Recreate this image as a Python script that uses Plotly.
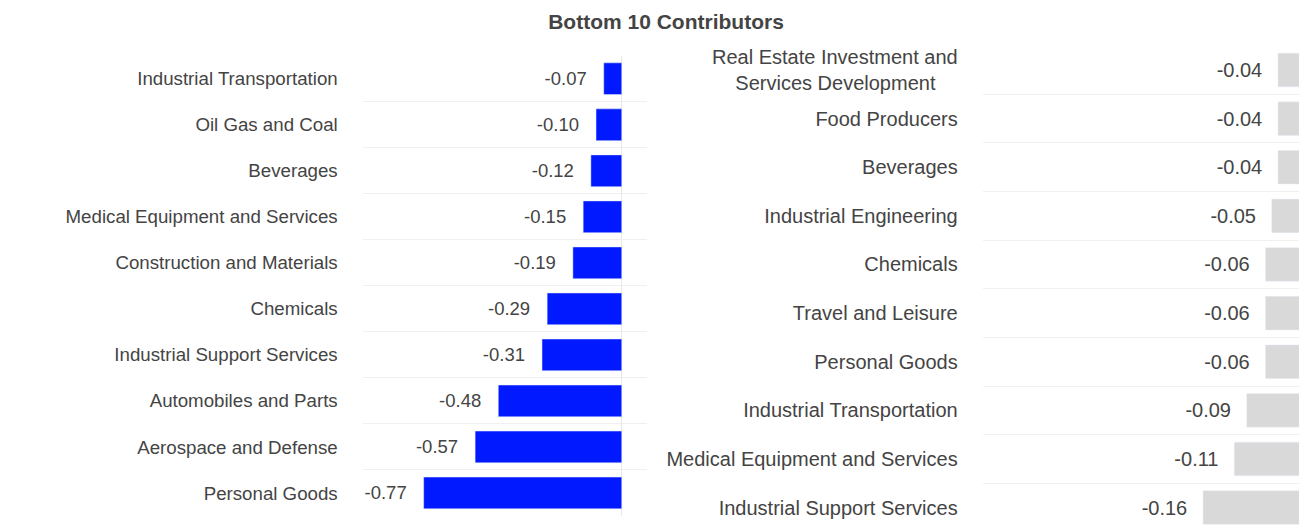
import plotly.graph_objects as go
from plotly.subplots import make_subplots

# Left panel: sector contributions
left_sectors = [
    "Industrial Transportation",
    "Oil Gas and Coal",
    "Beverages",
    "Medical Equipment and Services",
    "Construction and Materials",
    "Chemicals",
    "Industrial Support Services",
    "Automobiles and Parts",
    "Aerospace and Defense",
    "Personal Goods",
]
left_values = [-0.07, -0.10, -0.12, -0.15, -0.19, -0.29, -0.31, -0.48, -0.57, -0.77]

# Right panel: sector contributions (second line of the long label is padded so it sits centred)
right_sectors = [
    "Real Estate Investment and<br>Services Development\u00a0\u00a0\u00a0\u00a0",
    "Food Producers",
    "Beverages",
    "Industrial Engineering",
    "Chemicals",
    "Travel and Leisure",
    "Personal Goods",
    "Industrial Transportation",
    "Medical Equipment and Services",
    "Industrial Support Services",
]
right_values = [-0.04, -0.04, -0.04, -0.05, -0.06, -0.06, -0.06, -0.09, -0.11, -0.16]

FONT = "Liberation Sans, Arial, sans-serif"
TEXT = "#444444"
GRID = "#f0f0f0"
W, H = 1299, 525

fig = make_subplots(rows=1, cols=2)

fig.add_trace(
    go.Bar(
        x=left_values, y=left_sectors, orientation="h",
        marker=dict(color="#0019FF", line=dict(color="#E5ECF6", width=0.5)),
        texttemplate="%{x:.2f}  \u2009", textposition="outside",
        textfont=dict(family=FONT, size=18.5, color=TEXT),
        cliponaxis=False, showlegend=False,
    ),
    row=1, col=1,
)
fig.add_trace(
    go.Bar(
        x=right_values, y=right_sectors, orientation="h",
        marker=dict(color="#D9D9D9", line=dict(color="#E5ECF6", width=0.5)),
        texttemplate="%{x:.2f}  \u200a", textposition="outside",
        textfont=dict(family=FONT, size=20, color=TEXT),
        showlegend=False,
    ),
    row=1, col=2,
)

def px_x(a, b):
    return [a / W, b / W]

def px_y(top, bottom):
    return [1 - bottom / H, 1 - top / H]

fig.update_layout(
    width=W, height=H,
    margin=dict(l=0, r=0, t=0, b=0),
    paper_bgcolor="white", plot_bgcolor="white",
    bargap=0.31,
    font=dict(family=FONT, color=TEXT),
    title=dict(
        text="<b>Bottom 10 Contributors</b>",
        x=666 / W, xanchor="center", y=1 - 22 / H, yanchor="middle",
        font=dict(family=FONT, size=21, color=TEXT),
    ),
    xaxis=dict(
        domain=px_x(362.7, 646.7), range=[-1.007, 0.097],
        showgrid=False, showticklabels=False, ticks="",
        zeroline=True, zerolinecolor="#e8e8e8", zerolinewidth=1,
    ),
    yaxis=dict(
        domain=px_y(55.7, 516), range=[9.5, -0.5],
        tickson="boundaries", showgrid=True, gridcolor=GRID, gridwidth=1,
        ticks="", ticklabelstandoff=24, zeroline=False,
        tickfont=dict(family=FONT, size=18.7, color=TEXT),
    ),
    xaxis2=dict(
        domain=px_x(982.7, 1299), range=[-0.5125, -0.0064],
        showgrid=False, showticklabels=False, ticks="",
        zeroline=True, zerolinecolor="#e8e8e8", zerolinewidth=1,
    ),
    yaxis2=dict(
        domain=px_y(45.7, 525), range=[9.358, -0.5],
        tickson="boundaries", showgrid=True, gridcolor=GRID, gridwidth=1,
        ticks="", ticklabelstandoff=24, zeroline=False,
        tickfont=dict(family=FONT, size=20, color=TEXT),
    ),
)

fig.write_html("out.html")
